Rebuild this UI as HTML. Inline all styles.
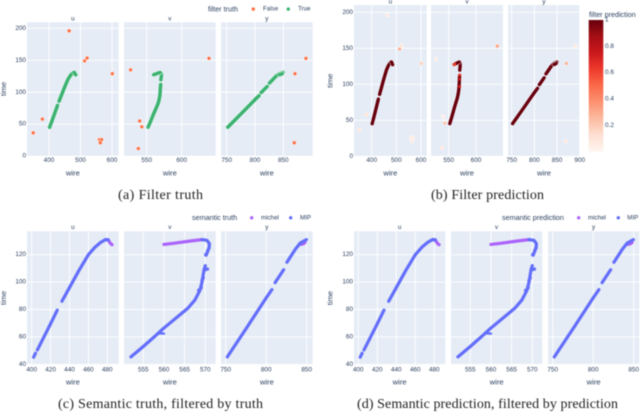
<!DOCTYPE html>
<html lang="en">
<head>
<meta charset="utf-8">
<title>Filter and semantic predictions</title>
<style>
html,body{margin:0;padding:0;background:#fff;width:640px;height:412px;overflow:hidden}
#figure{display:block;filter:blur(0.4px)}
text{font-family:"Liberation Sans",sans-serif;fill:#2a3f5f}
.caption{font-family:"Liberation Serif",serif;font-size:14px;fill:#222}
</style>
</head>
<body>
<svg id="figure" width="640" height="412" viewBox="0 0 640 412" xmlns="http://www.w3.org/2000/svg">
<defs>
<linearGradient id="redsGradient" x1="0" y1="1" x2="0" y2="0">
<stop offset="0" stop-color="#fff5f0"/><stop offset="0.125" stop-color="#fee0d2"/><stop offset="0.25" stop-color="#fcbba1"/><stop offset="0.375" stop-color="#fc9272"/><stop offset="0.5" stop-color="#fb6a4a"/><stop offset="0.625" stop-color="#ef3b2c"/><stop offset="0.75" stop-color="#cb181d"/><stop offset="0.875" stop-color="#a50f15"/><stop offset="1" stop-color="#67000d"/>
</linearGradient>
</defs>
<text class="caption" x="118" y="199" textLength="85">(a) Filter truth</text>
<text class="caption" x="431" y="199" textLength="113">(b) Filter prediction</text>
<text class="caption" x="58" y="408" textLength="205">(c) Semantic truth, filtered by truth</text>
<text class="caption" x="357" y="408" textLength="261">(d) Semantic prediction, filtered by prediction</text>
</svg>
<script>
// Track data: null separates the visible gaps in a track.
const uWire = [402, 404, null, 406, 412, 420, 427, null, 432, 440, 450, 460, 467, 473, 478, 481];
const uTime = [45.2, 48, null, 50.5, 58.7, 69.6, 79.5, null, 86, 96, 108.5, 120, 125.5, 129, 131, 130.8];
const uMichelWire = [479, 481, 483, 485];
const uMichelTime = [131, 130.8, 128.5, 127.3];

const vWire = [552, 555, 558.2, 559.8, 563.4, 565.8, 567.5, 568.7, 569.2, 569.7, 570, null, 570.2, 570.9, 571, 570.4, 569.2];
const vTime = [45.4, 53, 61.5, 66, 75, 81, 87, 94, 100, 109, 112, null, 119.6, 125, 128, 130.5, 131];
const vMichelWire = [569.2, 566.4, 562.3, 560];
const vMichelTime = [131, 130, 128.3, 127.5];
const vSpurWire = [558.5, 560];
const vSpurTime = [62.7, 62.4];
const vBlobWire = [568.4, 569, 569.2, 569.5, 569.9, 570.5, 570.9, 570.1, 570.6];
const vBlobTime = [94, 96, 101, 103, 109, 109.5, 125, 120, 123];

const yWire = [752, 776, 800, 807, null, 811, 821.5, null, 825.6, 836, 842, 849.6];
const yTime = [45.4, 66.8, 88.5, 94.5, null, 99.6, 109, null, 114.5, 124, 128.5, 131];
const yMichelWire = [843, 846, 848];
const yMichelTime = [127.5, 128, 129];

// Hits rejected by the truth filter, with their predicted filter score.
const uOutlierWire = [350, 379, 464, 513, 521, 601, 560, 567, 563];
const uOutlierTime = [36.5, 58, 196, 149, 153.5, 129, 26, 26, 21];
const uOutlierScore = [0.1, 0.12, 0.08, 0.28, 0.1, 0.18, 0.08, 0.08, 0.08];
const vOutlierWire = [527, 639, 540, 543, 538];
const vOutlierTime = [135, 153, 55, 46, 12];
const vOutlierScore = [0.08, 0.32, 0.07, 0.22, 0.1];
const yOutlierWire = [890, 870.6, 869.4];
const yOutlierTime = [153, 129, 21];
const yOutlierScore = [0.08, 0.28, 0.1];

// Kept hits that the filter scored below the saturated colour.
const vScoreSpotWire = [560, 561, 570, 570, 570.1];
const vScoreSpotTime = [127.5, 128, 97, 107, 113];
const vScoreSpotValue = [0.55, 0.62, 0.72, 0.78, 0.66];

// Tick labels.
const timeTicksTop = [0, 50, 100, 150, 200];
const timeTicksBottom = [40, 60, 80, 100, 120];
const uTicksTop = [400, 500, 600];
const vTicksTop = [550, 600];
const yTicksA = [750, 800, 850];
const yTicksB = [750, 800, 850, 900];
const uTicksBottom = [400, 420, 440, 460, 480];
const vTicksBottom = [555, 560, 565, 570];
const yTicksBottom = [750, 800, 850];
const colorbarTicks = [0.2, 0.4, 0.6, 0.8, 1];
const redsStops = ['#fff5f0', '#fee0d2', '#fcbba1', '#fc9272', '#fb6a4a', '#ef3b2c', '#cb181d', '#a50f15', '#67000d'];

const svg = document.getElementById('figure');
const NS = 'http://www.w3.org/2000/svg';

function make(tag, attrs, parent, name) {
  const el = document.createElementNS(NS, tag);
  for (const k in attrs) el.setAttribute(k, attrs[k]);
  
  
  parent.appendChild(el);
  return el;
}
function label(parent, name, str, x, y, size, anchor) {
  const t = make('text', {x: x, y: y, 'font-size': size, 'text-anchor': anchor || 'middle', 'dominant-baseline': 'central', fill: '#2a3f5f'}, parent, name);
  t.textContent = str;
  return t;
}
function linear(d0, p0, d1, p1) {
  return v => p0 + (v - d0) * (p1 - p0) / (d1 - d0);
}
function redsColor(v) {
  const t = Math.max(0, Math.min(1, v)) * (redsStops.length - 1);
  const i = Math.min(redsStops.length - 2, Math.floor(t));
  const a = redsStops[i], b = redsStops[i + 1], f = t - i;
  const ch = (s, o) => parseInt(s.substr(o, 2), 16);
  const mix = o => Math.round(ch(a, o) + (ch(b, o) - ch(a, o)) * f);
  return 'rgb(' + mix(1) + ',' + mix(3) + ',' + mix(5) + ')';
}
function trackPath(xs, ys, sx, sy) {
  let d = '', pen = false;
  for (let i = 0; i < xs.length; i++) {
    if (xs[i] === null) { pen = false; continue; }
    d += (pen ? 'L' : 'M') + sx(xs[i]).toFixed(2) + ' ' + sy(ys[i]).toFixed(2);
    pen = true;
  }
  return d;
}
function drawTrack(g, name, xs, ys, sx, sy, color, width, halo) {
  const d = trackPath(xs, ys, sx, sy);
  if (halo) {
    make('path', {d: d, fill: 'none', stroke: '#fff', 'stroke-width': width + 0.9, 'stroke-linecap': 'round', 'stroke-linejoin': 'round'}, g, name + '-halo');
  }
  make('path', {d: d, fill: 'none', stroke: color, 'stroke-width': width, 'stroke-linecap': 'round', 'stroke-linejoin': 'round'}, g, name);
}
function drawDots(g, name, xs, ys, sx, sy, colorAt, r, halo) {
  xs.forEach((x, i) => {
    const dot = make('circle', {cx: sx(x), cy: sy(ys[i]), r: r, fill: colorAt(i)}, g, name);
    if (halo) { dot.setAttribute('stroke', '#fff'); dot.setAttribute('stroke-width', 0.5); }
  });
}
function drawPanel(fig, p, index) {
  const g = make('g', {}, svg, fig.id + '-' + p.track + '-panel');
  make('rect', {x: p.left, y: fig.top, width: p.right - p.left, height: fig.bottom - fig.top, fill: '#e5ecf6'}, g, 'plot-background');
  const sx = linear(p.d0, p.p0, p.d1, p.p1);
  const sy = linear(fig.t0, fig.tp0, fig.t1, fig.tp1);
  p.ticks.forEach(t => {
    make('line', {x1: sx(t), x2: sx(t), y1: fig.top, y2: fig.bottom, stroke: '#fff', 'stroke-width': 0.9}, g, 'x-gridline');
    label(g, 'x-tick-label', String(t), sx(t), fig.xTickY, 6.4);
  });
  fig.timeTicks.forEach(t => {
    make('line', {x1: p.left, x2: p.right, y1: sy(t), y2: sy(t), stroke: '#fff', 'stroke-width': 0.9}, g, 'y-gridline');
    if (index === 0) label(g, 'y-tick-label', String(t), p.left - 1, sy(t), 6.4, 'end');
  });
  label(g, 'facet-title', p.track, (p.left + p.right) / 2, fig.facetY, 6.4);
  label(g, 'x-axis-title', 'wire', (p.left + p.right) / 2, fig.xTitleY, 7.6);
  if (index === 0) {
    const t = label(g, 'y-axis-title', 'time', fig.yTitleX, fig.yTitleY, 7.6);
    t.setAttribute('transform', 'rotate(-90 ' + fig.yTitleX + ' ' + fig.yTitleY + ')');
  }
  const clip = make('g', {}, g, 'plot-marks');
  const data = {
    u: {w: uWire, t: uTime, mw: uMichelWire, mt: uMichelTime, ow: uOutlierWire, ot: uOutlierTime, os: uOutlierScore},
    v: {w: vWire, t: vTime, mw: vMichelWire, mt: vMichelTime, ow: vOutlierWire, ot: vOutlierTime, os: vOutlierScore},
    y: {w: yWire, t: yTime, mw: yMichelWire, mt: yMichelTime, ow: yOutlierWire, ot: yOutlierTime, os: yOutlierScore}
  }[p.track];
  if (fig.mode === 'truth') {
    drawTrack(clip, 'true-hits-track', data.w, data.t, sx, sy, '#3cb371', 3.6, true);
    drawTrack(clip, 'true-hits-end-track', data.mw, data.mt, sx, sy, '#3cb371', 3.6, true);
    drawDots(clip, 'false-hit', data.ow, data.ot, sx, sy, () => '#ff7045', 2, true);
  } else if (fig.mode === 'score') {
    drawDots(clip, 'rejected-hit', data.ow, data.ot, sx, sy, i => redsColor(data.os[i]), 2, true);
    drawTrack(clip, 'accepted-hits-track', data.w, data.t, sx, sy, '#67000d', 3.4, true);
    drawTrack(clip, 'accepted-hits-end-track', data.mw, data.mt, sx, sy, '#67000d', 3.4, true);
    if (p.track === 'v') {
      drawDots(clip, 'low-score-hit', vScoreSpotWire, vScoreSpotTime, sx, sy, i => redsColor(vScoreSpotValue[i]), 1.5, false);
    }
  } else {
    drawTrack(clip, 'michel-track', data.mw, data.mt, sx, sy, '#ab63fa', 3.2, false);
    drawTrack(clip, 'mip-track', data.w, data.t, sx, sy, '#636efa', 3.2, false);
    if (p.track === 'v') {
      drawTrack(clip, 'mip-spur', vSpurWire, vSpurTime, sx, sy, '#636efa', 2.4, false);
      drawDots(clip, 'mip-hit', vBlobWire, vBlobTime, sx, sy, () => '#636efa', 1.7, false);
    }
  }
}
function drawLegend(parent, name, title, tx, entries, y) {
  const g = make('g', {}, parent, name);
  label(g, 'legend-title', title, tx, y, 7.2, 'start');
  entries.forEach(e => {
    make('circle', {cx: e.mx, cy: y + 0.3, r: 1.7, fill: e.color}, g, 'legend-marker');
    label(g, 'legend-entry', e.text, e.tx, y + 0.3, 6.2, 'start');
  });
}

const figures = [
  {id: 'filter-truth', mode: 'truth', top: 22.3, bottom: 156, t0: 0, tp0: 156.2, t1: 200, tp1: 28.3, timeTicks: timeTicksTop, facetY: 19, xTickY: 160.5, xTitleY: 173, yTitleX: 3.5, yTitleY: 89,
   panels: [
    {track: 'u', left: 27, right: 118.7, d0: 400, p0: 49, d1: 600, p1: 112, ticks: uTicksTop},
    {track: 'v', left: 124, right: 215.7, d0: 550, p0: 146.7, d1: 600, p1: 181.7, ticks: vTicksTop},
    {track: 'y', left: 221, right: 312.7, d0: 750, p0: 226.7, d1: 850, p1: 283.3, ticks: yTicksA}]},
  {id: 'filter-prediction', mode: 'score', top: 5, bottom: 156.3, t0: 0, tp0: 156.3, t1: 200, tp1: 12.3, timeTicks: timeTicksTop, facetY: 2, xTickY: 160.5, xTitleY: 173, yTitleX: 330, yTitleY: 80.7,
   panels: [
    {track: 'u', left: 354, right: 426.7, d0: 400, p0: 371.7, d1: 600, p1: 421, ticks: uTicksTop},
    {track: 'v', left: 431, right: 503, d0: 550, p0: 448.7, d1: 600, p1: 476, ticks: vTicksTop},
    {track: 'y', left: 508, right: 580, d0: 750, p0: 511.7, d1: 900, p1: 579.7, ticks: yTicksB}]},
  {id: 'semantic-truth', mode: 'semantic', top: 231.3, bottom: 364.7, t0: 40, tp0: 364.3, t1: 120, tp1: 254.7, timeTicks: timeTicksBottom, facetY: 227.5, xTickY: 369.8, xTitleY: 382, yTitleX: 3.5, yTitleY: 298,
   panels: [
    {track: 'u', left: 27, right: 118.7, d0: 400, p0: 31.7, d1: 480, p1: 107.3, ticks: uTicksBottom},
    {track: 'v', left: 124, right: 215.7, d0: 555, p0: 143.3, d1: 570, p1: 205.3, ticks: vTicksBottom},
    {track: 'y', left: 221, right: 312.7, d0: 750, p0: 225.7, d1: 850, p1: 306.7, ticks: yTicksBottom}]},
  {id: 'semantic-prediction', mode: 'semantic', top: 231.3, bottom: 364.7, t0: 40, tp0: 364.3, t1: 120, tp1: 254.7, timeTicks: timeTicksBottom, facetY: 227.5, xTickY: 369.8, xTitleY: 382, yTitleX: 330, yTitleY: 298,
   panels: [
    {track: 'u', left: 354, right: 445.3, d0: 400, p0: 358.3, d1: 480, p1: 434.3, ticks: uTicksBottom},
    {track: 'v', left: 451, right: 542.3, d0: 555, p0: 470.3, d1: 570, p1: 532.3, ticks: vTicksBottom},
    {track: 'y', left: 548, right: 639.3, d0: 750, p0: 552.7, d1: 850, p1: 633.7, ticks: yTicksBottom}]}
];

figures.forEach(fig => fig.panels.forEach((p, i) => drawPanel(fig, p, i)));

drawLegend(svg, 'filter-truth-legend', 'filter truth', 208, [
  {mx: 253.3, tx: 263, color: '#ff7045', text: 'False'},
  {mx: 288.3, tx: 298, color: '#3cb371', text: 'True'}], 8.8);
drawLegend(svg, 'semantic-truth-legend', 'semantic truth', 192, [
  {mx: 251.7, tx: 261, color: '#ab63fa', text: 'michel'},
  {mx: 290.7, tx: 300, color: '#636efa', text: 'MIP'}], 217.5);
drawLegend(svg, 'semantic-prediction-legend', 'semantic prediction', 502, [
  {mx: 578.7, tx: 588, color: '#ab63fa', text: 'michel'},
  {mx: 618.3, tx: 627.3, color: '#636efa', text: 'MIP'}], 217.5);

const bar = make('g', {}, svg, 'filter-prediction-colorbar');
const barY = linear(0, 151.6, 1, 20);
make('rect', {x: 588.7, y: barY(1), width: 14.6, height: barY(0) - barY(1), fill: 'url(#redsGradient)'}, bar, 'colorbar-gradient');
label(bar, 'colorbar-title', 'filter prediction', 589, 14.7, 7.2, 'start');
colorbarTicks.forEach(t => {
  label(bar, 'colorbar-tick-label', String(t), 605, barY(t), 6.4, 'start');
});
</script>
</body>
</html>
